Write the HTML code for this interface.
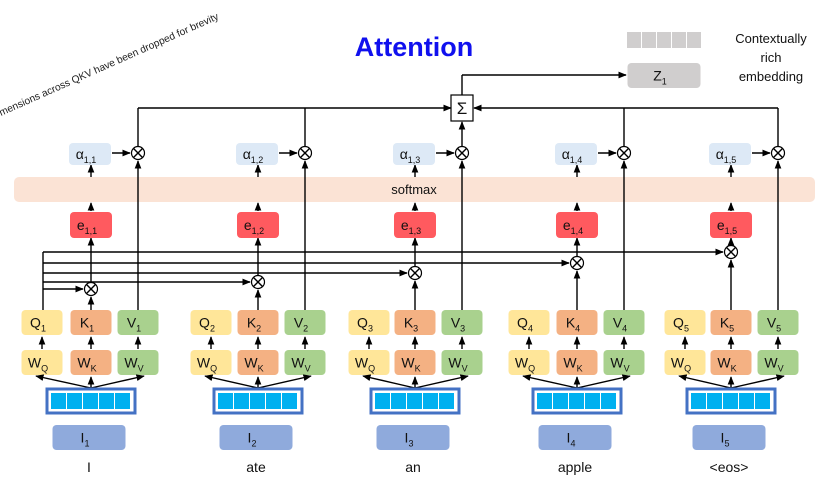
<!DOCTYPE html>
<html><head><meta charset="utf-8"><style>
html,body{margin:0;padding:0;background:#fff}
svg{display:block;font-family:"Liberation Sans",sans-serif}
</style></head><body>
<svg id="d" width="823" height="483" viewBox="0 0 823 483">
<defs><marker id="ar" viewBox="0 0 10 10" refX="9" refY="5" markerWidth="6" markerHeight="6" orient="auto-start-reverse"><path d="M0,1 L10,5 L0,9 z" fill="#000"/></marker></defs>
<text x="0" y="0" transform="translate(1,116) rotate(-24)" font-size="10.2" fill="#222">mensions across QKV have been dropped for brevity</text>
<text x="414" y="56" text-anchor="middle" font-size="27" font-weight="bold" fill="#1010ee">Attention</text>
<rect x="14" y="177" width="801" height="25" rx="5" fill="#fbe3d5"/>
<text x="414" y="194" text-anchor="middle" font-size="13" fill="#111">softmax</text>
<g id="g"></g>
<text x="771" y="43" text-anchor="middle" font-size="13" fill="#111">Contextually</text>
<text x="771" y="62" text-anchor="middle" font-size="13" fill="#111">rich</text>
<text x="771" y="81" text-anchor="middle" font-size="13" fill="#111">embedding</text>
</svg>
<script>
const words=["I","ate","an","apple","<eos>"];
const qx=[42,211,369,529,685];
const kx=[91,258,415,577,731];
const vx=[138,305,462,624,778];
const oy=[289,282,273,263,252];
const NS="http://www.w3.org/2000/svg";
const G=document.getElementById('g');
function el(t,a,name){const e=document.createElementNS(NS,t);for(const k in a)e.setAttribute(k,a[k]);


G.appendChild(e);return e;}
function line(x1,y1,x2,y2,arrow,name){const l=el('line',{x1,y1,x2,y2,stroke:'#000','stroke-width':1.4},name);if(arrow)l.setAttribute('marker-end','url(#ar)');return l;}
function box(cx,y,w,h,fill,main,sub,name){el('rect',{x:cx-w/2,y,width:w,height:h,rx:4,fill},name);
const t=el('text',{x:cx-(sub?4:0),y:y+h/2+5,'text-anchor':'middle','font-size':14,fill:'#111'},name+'-label');
t.textContent=main;if(sub){const s=document.createElementNS(NS,'tspan');s.setAttribute('font-size','9');s.setAttribute('dy','4');s.textContent=sub;t.appendChild(s);}}
function otimes(x,y,name){el('circle',{cx:x,cy:y,r:6.5,fill:'#fff',stroke:'#000','stroke-width':1.2},name);
line(x-4.6,y-4.6,x+4.6,y+4.6,false,name+'-x1');line(x-4.6,y+4.6,x+4.6,y-4.6,false,name+'-x2');}
line(43,310,43,oy[4],false,'q1-bus');
for(let i=0;i<5;i++){line(43,oy[i],kx[i]-8,oy[i],true,'q1-line-'+(i+1));}
line(vx[0],146,vx[0],108,false,'v1-up');line(vx[0],108,451,108,true,'sum-left');
line(vx[1],146,vx[1],108,false,'v2-up');
line(vx[2],146,vx[2],122,true,'v3-up');
line(vx[3],146,vx[3],108,false,'v4-up');line(vx[4],146,vx[4],108,false,'v5-up');
line(vx[4],108,474,108,true,'sum-right');
el('rect',{x:451,y:95,width:22,height:26,fill:'#fff',stroke:'#000','stroke-width':1.2},'sum-box');
const sg=el('text',{x:462,y:114,'text-anchor':'middle','font-size':17,fill:'#111'},'sum-symbol');sg.textContent='Σ';
line(462,95,462,75,false,'sum-out-up');line(462,75,626,75,true,'sum-out');
box(664,63,73,25,'#d0cece','Z','1','z1-box');
for(let c=0;c<5;c++)el('rect',{x:627+c*15,y:32,width:14,height:16,fill:'#d0cece'},'z-vector-cell');
for(let i=0;i<5;i++){
 const n=i+1;
 line(vx[i],310,vx[i],161,true,'v-line-'+n);
 line(kx[i],310,kx[i],oy[i]+8,true,'k-line-'+n);
 line(kx[i],oy[i]-7,kx[i],238,true,'dot-to-e-'+n);
 otimes(kx[i],oy[i],'dot-product-'+n);
 box(kx[i],212,42,26,'#ff5a5f','e','1,'+n,'score-e-'+n);
 line(kx[i],211,kx[i],203,true,'e-to-softmax-'+n);
 line(kx[i],177,kx[i],165,true,'softmax-to-alpha-'+n);
 box(kx[i]-1,143,42,22,'#dde9f6','α','1,'+n,'alpha-'+n);
 line(kx[i]+21,153,vx[i]-8,153,true,'alpha-arrow-'+n);
 otimes(vx[i],153,'weighted-value-'+n);
 box(qx[i],310,41,25,'#ffe699','Q',''+n,'q-'+n);
 box(kx[i],310,41,25,'#f4b183','K',''+n,'k-'+n);
 box(vx[i],310,41,25,'#a9d18e','V',''+n,'v-'+n);
 box(qx[i],350,41,25,'#ffe699','W','Q','wq-'+n);
 box(kx[i],350,41,25,'#f4b183','W','K','wk-'+n);
 box(vx[i],350,41,25,'#a9d18e','W','V','wv-'+n);
 for(const x of [qx[i],kx[i],vx[i]]){line(x,349,x,337,true,'w-to-qkv-'+n);}
 line(kx[i],388,qx[i]-6,376,true,'emb-to-wq-'+n);
 line(kx[i],388,kx[i],377,true,'emb-to-wk-'+n);
 line(kx[i],388,vx[i]+6,376,true,'emb-to-wv-'+n);
 el('rect',{x:kx[i]-44,y:389,width:88,height:24,fill:'#fff',stroke:'#4472c4','stroke-width':3},'embedding-'+n);
 for(let c=0;c<5;c++)el('rect',{x:kx[i]-40+c*16,y:393,width:15,height:16,fill:'#00b0f0'},'embedding-cell');
 box(kx[i]-2,425,73,25,'#8faadc','I',''+n,'input-'+n);
 const w=el('text',{x:kx[i]-2,y:472,'text-anchor':'middle','font-size':14,fill:'#111'},'word-'+n);w.textContent=words[i];
}
</script>
</body></html>
